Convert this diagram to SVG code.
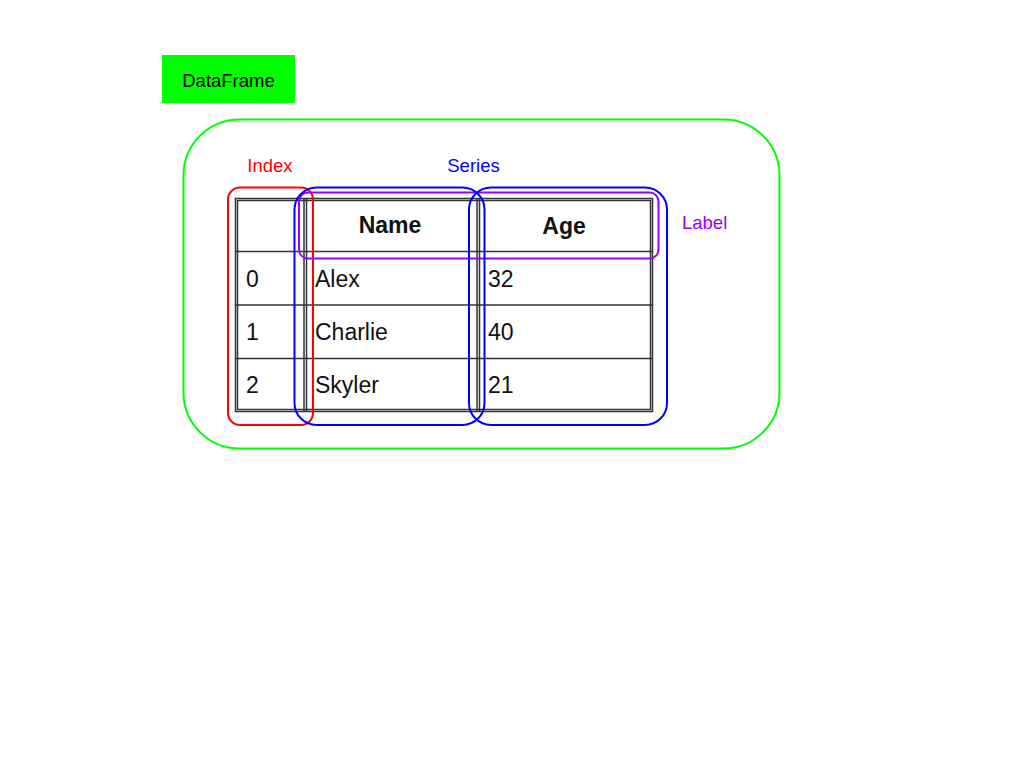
<svg xmlns="http://www.w3.org/2000/svg" width="1024" height="768" viewBox="0 0 1024 768">
<style>
text{font-family:"Liberation Sans",Arial,sans-serif}
.lbl{font-size:18.5px}
.cell{font-size:23px;fill:#111}
.hdr{font-size:23px;font-weight:bold;fill:#111;text-anchor:middle}
.tl{stroke:#333;stroke-width:1.5;fill:none}
.sel{fill:none;stroke-width:2}
</style>
<rect width="1024" height="768" fill="#fff"/>
<g id="dataframe-title">
<rect x="162" y="55" width="133" height="48" fill="#00ff00"/>
<text x="228.5" y="86.5" class="lbl" text-anchor="middle" fill="#000">DataFrame</text>
</g>
<g id="dataframe">
<rect x="183.5" y="119.5" width="596" height="329" rx="56" class="sel" stroke="#00ff00"/>
</g>
<g id="table">
<rect x="235.5" y="198.5" width="417" height="213" class="tl"/>
<rect x="237.5" y="200.5" width="413" height="209" class="tl" stroke-width="1"/>
<line x1="236" y1="251.5" x2="652" y2="251.5" class="tl"/>
<line x1="236" y1="305" x2="652" y2="305" class="tl"/>
<line x1="236" y1="358.5" x2="652" y2="358.5" class="tl"/>
<line x1="304" y1="199" x2="304" y2="411" class="tl" stroke-width="1.2"/>
<line x1="306.5" y1="199" x2="306.5" y2="411" class="tl" stroke-width="1.2"/>
<line x1="477" y1="199" x2="477" y2="411" class="tl" stroke-width="1.2"/>
<line x1="479.5" y1="199" x2="479.5" y2="411" class="tl" stroke-width="1.2"/>
<text x="390" y="233" class="hdr">Name</text>
<text x="564" y="234" class="hdr">Age</text>
<text x="246" y="287" class="cell">0</text>
<text x="315" y="287" class="cell">Alex</text>
<text x="488" y="287" class="cell">32</text>
<text x="246" y="340" class="cell">1</text>
<text x="315" y="340" class="cell">Charlie</text>
<text x="488" y="340" class="cell">40</text>
<text x="246" y="393" class="cell">2</text>
<text x="315" y="393" class="cell">Skyler</text>
<text x="488" y="393" class="cell">21</text>
</g>
<g id="index">
<rect x="228" y="187.5" width="85" height="237.5" rx="12" class="sel" stroke="#ff0000"/>
<text x="270" y="172" class="lbl" text-anchor="middle" fill="#ff0000">Index</text>
</g>
<g id="label">
<rect x="299" y="192.5" width="359.5" height="66" rx="9" class="sel" stroke="#9900ff"/>
<text x="682" y="229" class="lbl" fill="#9900ff">Label</text>
</g>
<g id="series">
<rect x="294.5" y="187.5" width="190" height="237.5" rx="22" class="sel" stroke="#0000ff"/>
<rect x="469" y="187.5" width="198" height="237.5" rx="22" class="sel" stroke="#0000ff"/>
<text x="473.5" y="172" class="lbl" text-anchor="middle" fill="#0000ff">Series</text>
</g>
</svg>
